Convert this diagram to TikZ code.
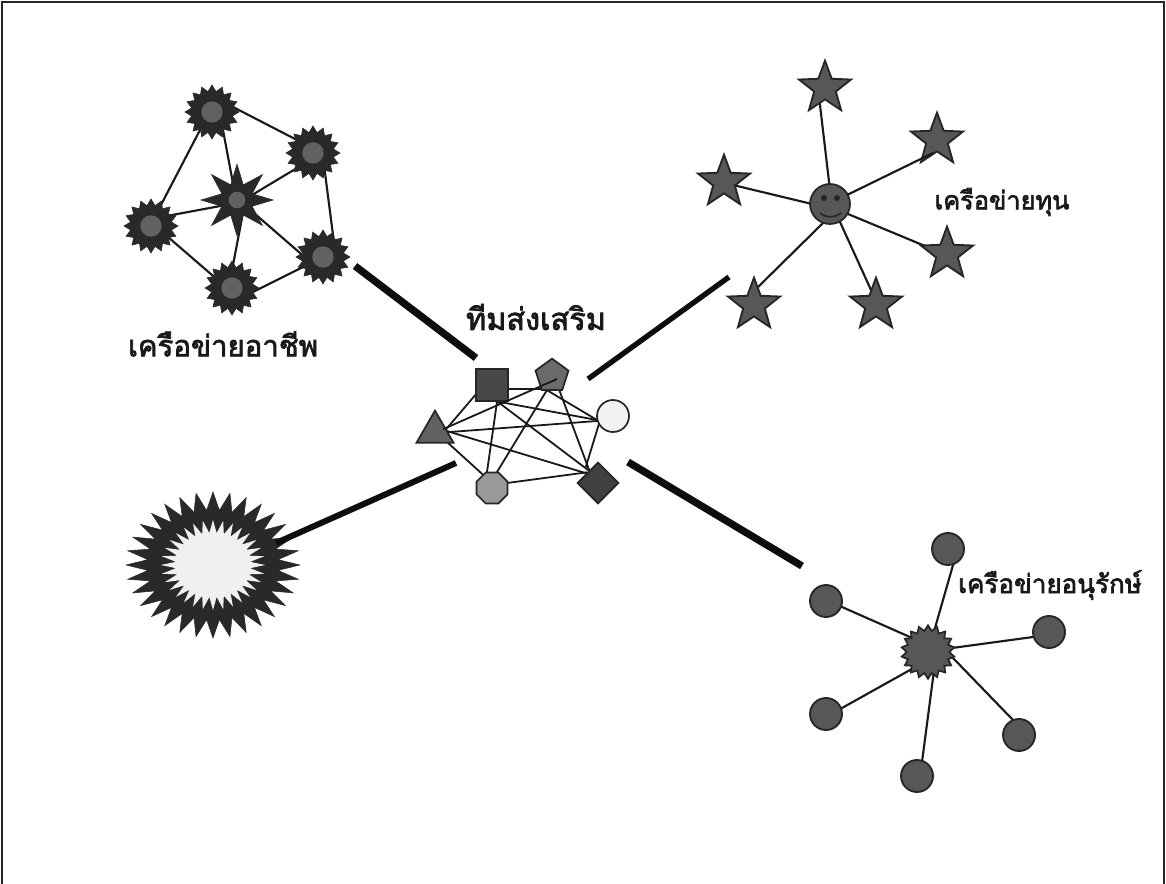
\documentclass[tikz,border=0pt]{standalone}
\usepackage{fontspec}
\newfontfamily\thaifont[Script=Thai,FakeBold=2.4]{Loma}
\usetikzlibrary{shapes.geometric,backgrounds}
\definecolor{burstdark}{gray}{0.16}
\definecolor{burstmid}{gray}{0.38}
\definecolor{stargray}{gray}{0.34}
\tikzset{
 x=0.75pt,y=-0.75pt,
 thin link/.style={line width=1.6pt,black!90,shorten <=-6pt,shorten >=-6pt},
 team link/.style={line width=1.35pt,black!90,shorten <=-4pt,shorten >=-4pt},
 thick link/.style={line cap=butt,black!95},
 burst/.style={star,star points=16,star point ratio=1.3,inner sep=0pt,minimum size=40.5pt,fill=burstdark,draw=burstdark},
 burst core/.style={circle,inner sep=0pt,minimum size=16pt,fill=burstmid},
 fivestar/.style={star,star points=5,star point ratio=2.4,inner sep=0pt,minimum size=41pt,fill=stargray,draw=black!85,line width=1.4pt},
 dot/.style={circle,inner sep=0pt,minimum size=24pt,fill=stargray,draw=black!85,line width=1.4pt},
 shape line/.style={draw=black!85,line width=1.3pt,inner sep=0pt},
 labeltext/.style={text=black!90,inner sep=0pt},
}
\begin{document}
\begin{tikzpicture}
\useasboundingbox (0,0) rectangle (1166,884);
\draw[line width=1.5pt,black!85] (2,884) -- (2,2) -- (1164,2) -- (1164,884);
% professional network
\node[burst] (p1) at (212,112) {};
\node[burst] (p2) at (313,153) {};
\node[burst] (p3) at (151,226) {};
\node[burst] (p4) at (232,288) {};
\node[burst] (p5) at (323,257) {};
\node[star,star points=8,star point ratio=2.2,inner sep=0pt,minimum size=54pt,fill=burstdark,draw=burstdark] (pc) at (237,200) {};
\foreach \n in {p1,p2,p3,p4,p5}{\node[burst core] at (\n) {};}
\node[burst core,minimum size=12.5pt] at (pc) {};
\begin{scope}[on background layer]
\foreach \a/\b in {{233,107}/{297,140},{200,130}/{162,203},{223,130}/{232,178},{297,168}/{257,192},{325,173}/{333,235},{172,215}/{215,207},{168,237}/{212,275},{233,265}/{242,218},{253,292}/{303,267},{300,253}/{247,207}}{
 \coordinate (u) at (\a); \coordinate (v) at (\b);
 \draw[thin link] (u)--(v);
}
\end{scope}
\node[labeltext,font=\thaifont\fontsize{22}{26}\selectfont] (lp) at (223,344) {เครือข่ายอาชีพ};
% team
\node[rectangle,shape line,minimum size=23.5pt,fill=black!72] (ts) at (492,385) {};
\node[regular polygon,regular polygon sides=5,shape line,minimum size=26pt,fill=black!58] (tp) at (552,376) {};
\node[circle,shape line,minimum size=24pt,fill=black!5] (tc) at (613,416) {};
\node[regular polygon,regular polygon sides=3,shape line,minimum size=32pt,fill=black!62] (tt) at (435,432) {};
\node[regular polygon,regular polygon sides=8,shape line,minimum size=25pt,fill=black!40] (to) at (492,488) {};
\node[diamond,shape line,minimum size=31pt,fill=black!75] (td) at (598,483) {};
\begin{scope}[on background layer]
\foreach \a/\b in {{507,389}/{547,389},{500,402}/{597,420},{498,402}/{588,470},{477,393}/{448,427},{497,402}/{487,472},{550,392}/{597,420},{560,392}/{588,467},{547,390}/{497,472},{450,432}/{597,421},{450,432}/{582,472},{447,442}/{480,472},{507,483}/{582,473},{598,427}/{587,463}}{
 \coordinate (u) at (\a); \coordinate (v) at (\b);
 \draw[team link] (u)--(v);
}
\end{scope}
\coordinate (tpin) at (557,379); \coordinate (ttin) at (448,427);
\draw[team link,shorten <=0pt] (tpin)--(ttin);
\node[labeltext,font=\thaifont\fontsize{23}{26}\selectfont] (lt) at (536,317) {ทีมส่งเสริม};
% capital network
\node[circle,shape line,minimum size=30pt,fill=stargray] (sm) at (830,204) {};
\fill[black!85] (824,198) circle (3) (837,198) circle (3);
\draw[line width=1.2pt,black!85] (820,213) .. controls (826,218) and (835,218) .. (841,213);
\foreach \n/\p in {s1/{825,88},s2/{937,140},s3/{724,182},s4/{947,254},s5/{754,305},s6/{876,305}}{
 \node[fivestar] (\n) at (\p) {};
}
\coordinate (smb) at (847,195); \coordinate (s2in) at (933,153);
\draw[thin link,shorten <=0pt,shorten >=0pt] (smb)--(s2in);
\begin{scope}[on background layer]
\foreach \a/\b in {{830,190}/{820,105},{733,185}/{812,204},{848,214}/{925,246},{822,224}/{757,288},{840,222}/{871,290}}{
 \coordinate (u) at (\a); \coordinate (v) at (\b);
 \draw[thin link] (u)--(v);
}
\end{scope}
\node[labeltext,font=\thaifont\fontsize{19}{22}\selectfont] (lc) at (1002,202) {เครือข่ายทุน};
% conservation network
\node[star,star points=18,star point ratio=1.25,shape line,minimum size=40pt,fill=stargray] (cc) at (928,652) {};
\foreach \n/\p in {c1/{948,549},c2/{826,601},c3/{1049,632},c4/{826,714},c5/{1019,735},c6/{917,776}}{
 \node[dot] (\n) at (\p) {};
}
\begin{scope}[on background layer]
\foreach \a/\b in {{953,565}/{935,628},{842,607}/{910,637},{1033,637}/{952,648},{842,708}/{910,670},{1012,719}/{953,658},{922,762}/{933,678}}{
 \coordinate (u) at (\a); \coordinate (v) at (\b);
 \draw[thin link] (u)--(v);
}
\end{scope}
\node[labeltext,font=\thaifont\fontsize{19.5}{22}\selectfont] (lk) at (1050,585) {เครือข่ายอนุรักษ์};
% large burst
\node[star,star points=32,star point ratio=1.33,inner sep=0pt,minimum size=109.5pt,xscale=1.19,fill=burstdark,draw=burstdark] (big) at (213,565) {};
\node[star,star points=32,star point ratio=1.4,inner sep=0pt,minimum size=67.5pt,xscale=1.16,fill=black!6] (bigc) at (big.center) {};
% thick links
\coordinate (a1) at (355,266); \coordinate (a2) at (476,358);
\coordinate (b1) at (729,277); \coordinate (b2) at (588,379);
\coordinate (d1) at (276,543); \coordinate (d2) at (456,463);
\coordinate (e1) at (802,566); \coordinate (e2) at (628,462);
\draw[thick link,line width=5.5pt] (a1)--(a2);
\draw[thick link,line width=4pt] (b1)--(b2);
\draw[thick link,line width=4.5pt] (d1)--(d2);
\draw[thick link,line width=5.5pt] (e1)--(e2);
\end{tikzpicture}
\end{document}
